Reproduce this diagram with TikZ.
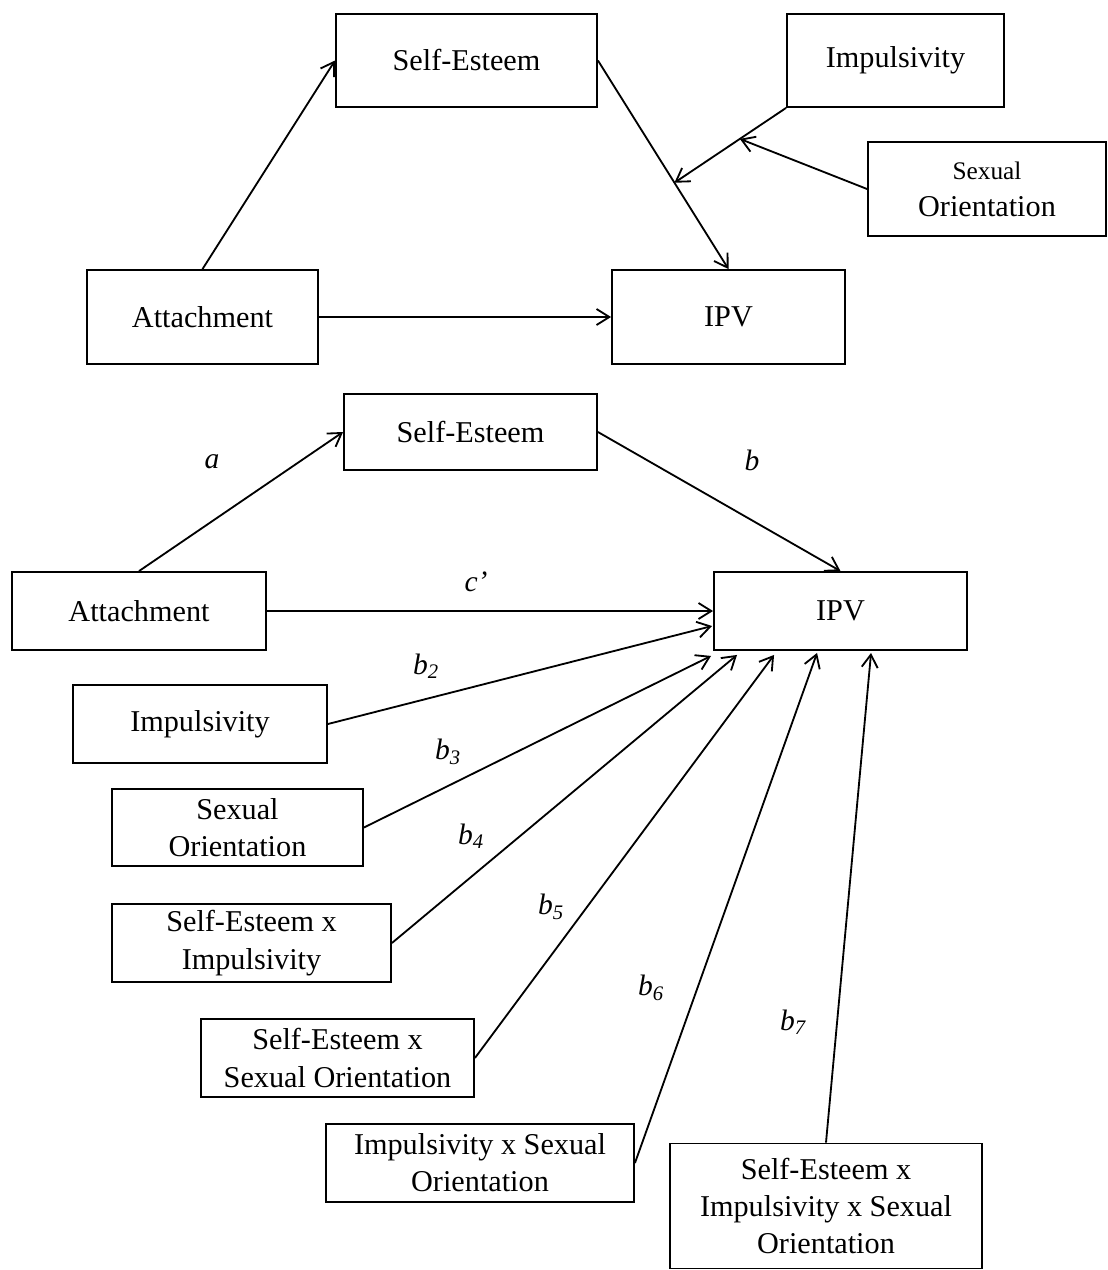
\documentclass[tikz,border=0pt]{standalone}
\usepackage{fontspec}
\setmainfont{Liberation Serif}
\usepackage{tikz}
\usetikzlibrary{arrows.meta,positioning,calc}

\begin{document}
\begin{tikzpicture}[->,>={Straight Barb[length=0.32cm,width=0.4cm]},
x=0.025cm,y=-0.025cm,line width=1.3pt,
font=\fontsize{21.5}{26.5}\selectfont]

\tikzstyle{box}=[rectangle, draw, line width=1.3pt, inner sep=0pt, align=center, text=black]
\tikzstyle{coef}=[inner sep=0pt, font=\fontsize{21}{24}\selectfont\itshape]

\useasboundingbox (0,0) rectangle (1108,1270);

%top model
\node[box, minimum width=6.525cm, minimum height=2.325cm]
(se1) at (466.5,60.5)
{Self-Esteem};

\node[box, minimum width=5.425cm, minimum height=2.325cm]
(imp1) at (895.5,60.5)
{Impulsivity};

\node[box, minimum width=5.95cm, minimum height=2.35cm]
(so1) at (987,189)
{{\fontsize{18}{22}\selectfont Sexual}\\Orientation};

\node[box, minimum width=5.775cm, minimum height=2.35cm]
(att1) at (202.5,317)
{Attachment};

\node[box, minimum width=5.825cm, minimum height=2.35cm]
(ipv1) at (728.5,317)
{IPV};

\coordinate (m1) at ($(se1.east)!0.586!(ipv1.north)$);
\coordinate (m2) at ($(imp1.south west)!0.414!(m1)$);

\path[->] (att1.north) edge (se1.west);
\path[->] (se1.east) edge (ipv1.north);
\path[->] (att1.east) edge (ipv1.west);
\path[->] (imp1.south west) edge (m1);
\path[->] (so1.west) edge (m2);

%bottom model
\node[box, minimum width=6.325cm, minimum height=1.9cm]
(se2) at (470.5,432)
{Self-Esteem};

\node[box, minimum width=6.35cm, minimum height=1.95cm]
(att2) at (139,611)
{Attachment};

\node[box, minimum width=6.325cm, minimum height=1.95cm]
(ipv2) at (840.5,611)
{IPV};

\node[box, minimum width=6.35cm, minimum height=1.95cm]
(imp2) at (200,724)
{Impulsivity};

\node[box, minimum width=6.275cm, minimum height=1.925cm]
(so2) at (237.5,827.5)
{Sexual\\Orientation};

\node[box, minimum width=6.975cm, minimum height=1.95cm]
(seimp) at (251.5,943)
{Self-Esteem x\\Impulsivity};

\node[box, minimum width=6.825cm, minimum height=1.95cm]
(seso) at (337.5,1058)
{Self-Esteem x\\Sexual Orientation};

\node[box, minimum width=7.7cm, minimum height=1.95cm]
(impso) at (480,1163)
{Impulsivity x Sexual\\Orientation};

\node[box, minimum width=7.8cm, minimum height=3.125cm]
(seimpso) at (826,1206)
{Self-Esteem x\\Impulsivity x Sexual\\Orientation};

\path[->] (att2.north) edge (se2.west);
\path[->] (se2.east) edge (ipv2.north);
\path[->] (att2.east) edge (ipv2.west);
\path[->] (imp2.east) edge ([shift={(-1,15)}]ipv2.west);
\path[->] (so2.east) edge ([shift={(-2,5)}]ipv2.south west);
\path[->] (seimp.east) edge ([shift={(24,4)}]ipv2.south west);
\path[->] (seso.east) edge ([shift={(61,4)}]ipv2.south west);
\path[->] (impso.east) edge ([shift={(104,2)}]ipv2.south west);
\path[->] (seimpso.north) edge ([shift={(158,2)}]ipv2.south west);

%path labels
\node[coef] (la) at (212,462) {a};
\node[coef] (lb) at (752,460) {b};
\node[coef] (lc) at (476,582) {c’};
\node[coef] (lb2) at (426,666) {b\textsubscript{2}};
\node[coef] (lb3) at (448,752) {b\textsubscript{3}};
\node[coef] (lb4) at (471,836) {b\textsubscript{4}};
\node[coef] (lb5) at (551,907) {b\textsubscript{5}};
\node[coef] (lb6) at (651,988) {b\textsubscript{6}};
\node[coef] (lb7) at (793,1022) {b\textsubscript{7}};

\end{tikzpicture}
\end{document}
